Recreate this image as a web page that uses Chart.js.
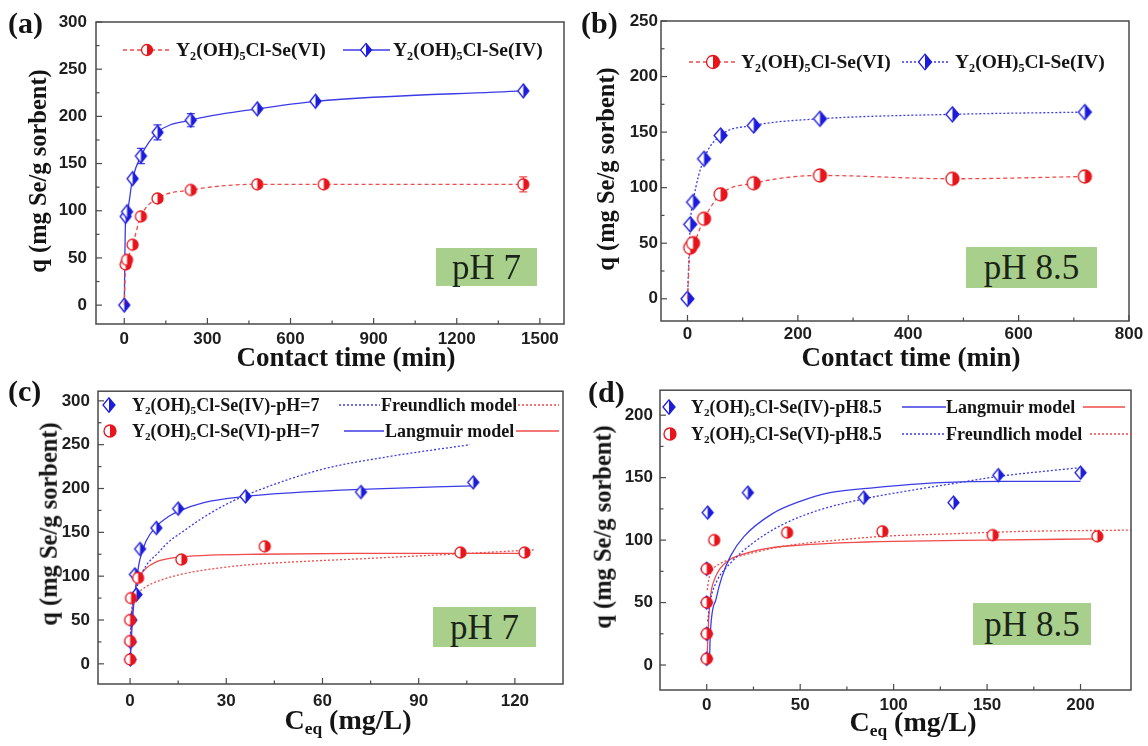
<!DOCTYPE html>
<html><head><meta charset="utf-8">
<script src="https://cdn.jsdelivr.net/npm/chart.js@4.4.1/dist/chart.umd.min.js"></script>
<style>
html,body{margin:0;padding:0;background:#fff;width:1148px;height:746px;overflow:hidden;position:relative}
canvas{position:absolute}
.t{position:absolute;font-family:"Liberation Serif","Times New Roman",serif;font-weight:bold;color:#141414;white-space:nowrap;line-height:1}
.ph{position:absolute;background:#a9cf8d;font-family:"Liberation Serif","Times New Roman",serif;font-size:35px;color:#1a2416;display:flex;align-items:center;justify-content:center;line-height:1}
.yt{position:absolute;font-family:"Liberation Serif","Times New Roman",serif;font-weight:bold;color:#141414;white-space:nowrap;line-height:1;transform:translate(-50%,-50%) rotate(-90deg)}
.xt{position:absolute;font-family:"Liberation Serif","Times New Roman",serif;font-weight:bold;color:#141414;white-space:nowrap;line-height:1;transform:translate(-50%,-50%)}
sub{font-size:0.62em;vertical-align:-0.3em;line-height:0}
svg{position:absolute;overflow:visible}
</style></head><body>
<canvas id="cA" width="574" height="373" style="left:0;top:0"></canvas>
<canvas id="cB" width="574" height="373" style="left:574px;top:0"></canvas>
<canvas id="cC" width="574" height="373" style="left:0;top:373px"></canvas>
<canvas id="cD" width="574" height="373" style="left:574px;top:373px"></canvas>
<script>
// ---------------- DATA ----------------
// (a) kinetics pH 7
const aTimeVI = [0, 5, 10, 30, 60, 120, 240, 480, 720, 1440];
const aQVI    = [0, 43, 48, 64, 94, 113, 122, 128, 128, 128];
const aErrVI  = [0, 0, 0, 0, 0, 0, 0, 0, 0, 8];
const aTimeIV = [0, 5, 10, 30, 60, 120, 240, 480, 690, 1440];
const aQIV    = [0, 94, 99, 134, 158, 183, 196, 208, 216, 227];
const aErrIV  = [0, 0, 0, 0, 8, 8, 7, 0, 0, 0];
const aXTicks = [0, 300, 600, 900, 1200, 1500];
const aYTicks = [0, 50, 100, 150, 200, 250, 300];
// (b) kinetics pH 8.5
const bTime   = [0, 5, 10, 30, 60, 120, 240, 480, 720];
const bQVI    = [0, 46, 50, 72, 94, 104, 111, 108, 110];
const bQIV    = [0, 67, 87, 126, 147, 156, 162, 166, 168];
const bXTicks = [0, 200, 400, 600, 800];
const bYTicks = [0, 50, 100, 150, 200, 250];
// (c) isotherms pH 7
const cCeqIV = [0.1, 0.2, 0.4, 1.5, 2, 3.1, 8.2, 15, 36, 72, 107];
const cQIV   = [5, 25, 50, 102, 79, 131, 155, 177, 191, 196, 207];
const cCeqVI = [0, 0, 0, 0.3, 2.5, 16, 42, 103, 123];
const cQVI   = [5, 26, 50, 75, 98, 119, 134, 127, 127];
const cLangIVx = [0, 0.5, 1, 2, 3, 5, 8, 12, 15, 23, 36, 50, 72, 107];
const cLangIVy = [0, 35, 62, 95, 118, 140, 156, 168, 174, 184, 191, 195, 199, 203];
const cFreIVx  = [0.05, 0.5, 1, 2, 3, 5, 8.6, 12, 16.5, 22, 30, 40, 60, 80, 106];
const cFreIVy  = [30, 58, 70, 85, 97, 112, 126, 139, 151, 165, 182, 198, 222, 236, 250];
const cLangVIx = [0, 0.3, 1, 2, 3, 5, 8, 12, 16, 25, 40, 70, 123];
const cLangVIy = [0, 35, 70, 90, 100, 109, 116, 120, 122, 124, 125, 126, 126];
const cFreVIx  = [0.05, 0.5, 1, 2, 5, 10, 17, 25, 37, 55, 73, 100, 126];
const cFreVIy  = [45, 62, 70, 78, 88, 96, 103, 108, 113, 117, 120, 125, 130];
const cXTicks = [0, 30, 60, 90, 120];
const cYTicks = [0, 50, 100, 150, 200, 250, 300];
// (d) isotherms pH 8.5
const dCeqIV = [0, 0, 0, 0, 0.5, 22, 84, 132, 156, 200];
const dQIV   = [5, 25, 50, 77, 122, 138, 134, 130, 152, 154];
const dCeqVI = [0, 0, 0, 0, 4, 43, 94, 153, 209];
const dQVI   = [5, 25, 50, 77, 100, 106, 107, 104, 103];
const dLangIVx = [1.5, 2, 5, 8, 13, 20, 35, 50, 66, 90, 125, 160, 200];
const dLangIVy = [5, 27, 53, 70, 88, 103, 121, 131, 138, 142, 146, 147, 147];
const dFreIVx  = [0.5, 2, 5, 13, 25, 40, 60, 84, 110, 135, 156, 180, 200];
const dFreIVy  = [35, 52, 66, 82, 98, 112, 124, 133, 140, 146, 151, 155, 158];
const dLangVIx = [0.3, 1, 2, 4, 7, 12, 20, 35, 50, 75, 100, 150, 209];
const dLangVIy = [10, 35, 55, 68, 77, 84, 89, 94, 96, 98, 99, 100, 101];
const dFreVIx  = [0.3, 1, 3, 7, 13, 25, 45, 70, 94, 130, 170, 227];
const dFreVIy  = [60, 68, 76, 81, 85, 90, 96, 100, 103, 105, 107, 108];
const dXTicks = [0, 50, 100, 150, 200];
const dYTicks = [0, 50, 100, 150, 200];

// ---------------- STYLE ----------------
const RED = '#e8141b', BLUE = '#1c1cdc', REDL = '#f04a4a', BLUEL = '#3c3ce6';
const pts = (xs, ys) => xs.map((x, i) => ({x: x, y: ys[i]}));

function halfCircle(r, color) {
  const s = Math.ceil(2 * r + 4), c = document.createElement('canvas');
  c.width = s; c.height = s;
  const g = c.getContext('2d'), cx = s / 2, cy = s / 2;
  g.beginPath(); g.arc(cx, cy, r, 0, 2 * Math.PI); g.fillStyle = '#fff'; g.fill();
  g.beginPath(); g.arc(cx, cy, r, -Math.PI / 2, Math.PI / 2); g.closePath(); g.fillStyle = color; g.fill();
  g.beginPath(); g.arc(cx, cy, r, 0, 2 * Math.PI); g.lineWidth = 1.3; g.strokeStyle = color; g.stroke();
  return c;
}
function halfDiamond(hw, hh, color) {
  const w = Math.ceil(2 * hw + 4), h = Math.ceil(2 * hh + 4), c = document.createElement('canvas');
  c.width = w; c.height = h;
  const g = c.getContext('2d'), cx = w / 2, cy = h / 2;
  g.beginPath(); g.moveTo(cx, cy - hh); g.lineTo(cx + hw, cy); g.lineTo(cx, cy + hh); g.lineTo(cx - hw, cy); g.closePath();
  g.fillStyle = '#fff'; g.fill();
  g.beginPath(); g.moveTo(cx, cy - hh); g.lineTo(cx + hw, cy); g.lineTo(cx, cy + hh); g.closePath(); g.fillStyle = color; g.fill();
  g.beginPath(); g.moveTo(cx, cy - hh); g.lineTo(cx + hw, cy); g.lineTo(cx, cy + hh); g.lineTo(cx - hw, cy); g.closePath();
  g.lineWidth = 1.3; g.strokeStyle = color; g.stroke();
  return c;
}

const frameTicks = {
  id: 'frameTicks',
  afterDraw(chart) {
    const {ctx, chartArea: a, scales: {x, y}} = chart;
    ctx.save();
    ctx.strokeStyle = '#4a4a4a'; ctx.lineWidth = 1.5;
    ctx.strokeRect(a.left, a.top, a.right - a.left, a.bottom - a.top);
    ctx.lineWidth = 1.2;
    const tk = (vals, len, hor) => vals.forEach(v => {
      ctx.beginPath();
      if (hor) { const p = x.getPixelForValue(v); ctx.moveTo(p, a.bottom); ctx.lineTo(p, a.bottom - len); }
      else { const p = y.getPixelForValue(v); ctx.moveTo(a.left, p); ctx.lineTo(a.left + len, p); }
      ctx.stroke();
    });
    const xv = x.ticks.map(t => t.value), yv = y.ticks.map(t => t.value);
    tk(xv, 6, true); tk(yv, 6, false);
    const mid = arr => arr.slice(0, -1).map((v, i) => (v + arr[i + 1]) / 2);
    tk(mid(xv), 3.5, true); tk(mid(yv), 3.5, false);
    ctx.restore();
  }
};
const errBars = {
  id: 'errBars',
  beforeDatasetsDraw(chart) {
    const {ctx, scales: {y}} = chart;
    chart.data.datasets.forEach((ds, i) => {
      if (!ds.errs) return;
      const meta = chart.getDatasetMeta(i);
      ctx.save(); ctx.strokeStyle = ds.errColor; ctx.lineWidth = 1.2;
      ds.errs.forEach((e, j) => {
        if (!e) return;
        const px = meta.data[j].x, v = ds.data[j].y;
        const y1 = y.getPixelForValue(v + e), y2 = y.getPixelForValue(v - e);
        ctx.beginPath();
        ctx.moveTo(px, y1); ctx.lineTo(px, y2);
        ctx.moveTo(px - 4, y1); ctx.lineTo(px + 4, y1);
        ctx.moveTo(px - 4, y2); ctx.lineTo(px + 4, y2);
        ctx.stroke();
      });
      ctx.restore();
    });
  }
};

const tickFont = {family: '"Liberation Sans", Arial, sans-serif', weight: 'bold', size: 17};
function makeChart(id, o) {
  return new Chart(document.getElementById(id), {
    type: 'scatter',
    data: {datasets: o.datasets},
    options: {
      responsive: false, animation: false, devicePixelRatio: 1,
      layout: {padding: o.pad},
      plugins: {legend: {display: false}, tooltip: {enabled: false}},
      scales: {
        x: {type: 'linear', min: o.xr[0], max: o.xr[1],
            grid: {display: false, drawTicks: false}, border: {display: false},
            ticks: {padding: o.xpad, color: '#1e1e1e', maxRotation: 0, autoSkip: false, font: tickFont,
                    callback: v => String(v)},
            afterBuildTicks: s => { s.ticks = o.xt.map(v => ({value: v})); },
            afterFit: s => { s.height = 30; }},
        y: {type: 'linear', min: o.yr[0], max: o.yr[1],
            grid: {display: false, drawTicks: false}, border: {display: false},
            ticks: {padding: o.ypad, color: '#1e1e1e', autoSkip: false, font: tickFont,
                    callback: v => String(v)},
            afterBuildTicks: s => { s.ticks = o.yt.map(v => ({value: v})); },
            afterFit: s => { s.width = 50; }}
      }
    },
    plugins: [errBars, frameTicks]
  });
}

const hideFirst = c => (c.dataIndex === 0 ? 0 : 6);
const lineDs = (xs, ys, color, dash, marker, extra) => Object.assign({
  data: pts(xs, ys), showLine: true, borderColor: color, borderWidth: 1.3, borderDash: dash,
  cubicInterpolationMode: 'monotone', pointStyle: marker, pointRadius: 6,
  backgroundColor: color, fill: false, order: 0
}, extra || {});
const markDs = (xs, ys, marker) => ({data: pts(xs, ys), showLine: false, pointStyle: marker, pointRadius: 6, order: 0});
const curveDs = (xs, ys, color, dash) => ({data: pts(xs, ys), showLine: true, borderColor: color, borderWidth: 1.3,
  borderDash: dash, cubicInterpolationMode: 'monotone', pointRadius: 0, fill: false, order: 1});

// (a)
makeChart('cA', {
  pad: {left: 46, right: 10, top: 22, bottom: 19}, xr: [-102, 1587], yr: [-20, 300],
  xt: aXTicks, yt: aYTicks, xpad: 5, ypad: 9,
  datasets: [
    lineDs(aTimeVI, aQVI, REDL, [4, 3], halfCircle(5.5, RED), {errs: aErrVI, errColor: REDL, pointRadius: hideFirst}),
    lineDs(aTimeIV, aQIV, BLUEL, [], halfDiamond(5.5, 7, BLUE), {errs: aErrIV, errColor: BLUEL, order: 1})
  ]
});
// (b)
makeChart('cB', {
  pad: {left: 37, right: 19, top: 21, bottom: 22}, xr: [-48, 800], yr: [-20, 250],
  xt: bXTicks, yt: bYTicks, xpad: 3, ypad: 3,
  datasets: [
    lineDs(bTime, bQVI, REDL, [4, 3], halfCircle(6.5, RED), {pointRadius: hideFirst}),
    lineDs(bTime, bQIV, BLUEL, [2, 2], halfDiamond(6.5, 7.5, BLUE), {order: 1})
  ]
});
// (c)
makeChart('cC', {
  pad: {left: 48, right: 11, top: 15, bottom: 32}, xr: [-10, 135], yr: [-23, 311],
  xt: cXTicks, yt: cYTicks, xpad: 7, ypad: 8,
  datasets: [
    markDs(cCeqVI, cQVI, halfCircle(5.5, RED)),
    markDs(cCeqIV, cQIV, halfDiamond(5.5, 6.5, BLUE)),
    curveDs(cLangIVx, cLangIVy, BLUEL, []),
    curveDs(cFreIVx, cFreIVy, BLUEL, [2, 2]),
    curveDs(cLangVIx, cLangVIy, REDL, []),
    curveDs(cFreVIx, cFreVIy, REDL, [2, 2])
  ]
});
// (d)
makeChart('cD', {
  pad: {left: 36, right: 17, top: 15, bottom: 26}, xr: [-25, 227], yr: [-20, 220],
  xt: dXTicks, yt: dYTicks, xpad: 5, ypad: 7,
  datasets: [
    markDs(dCeqVI, dQVI, halfCircle(5.5, RED)),
    markDs(dCeqIV, dQIV, halfDiamond(5.5, 6.5, BLUE)),
    curveDs(dLangIVx, dLangIVy, BLUEL, []),
    curveDs(dFreIVx, dFreIVy, BLUEL, [2, 2]),
    curveDs(dLangVIx, dLangVIy, REDL, []),
    curveDs(dFreVIx, dFreVIy, REDL, [2, 2])
  ]
});

// ---------------- TEXT & LEGENDS ----------------
const add = h => document.body.insertAdjacentHTML('beforeend', h);
const Y2 = 'Y<sub>2</sub>(OH)<sub>5</sub>Cl-Se';
function markerSVG(kind, cx, cy, s) {
  if (kind === 'c') return `<circle cx="${cx}" cy="${cy}" r="${s}" fill="#fff" stroke="${RED}" stroke-width="1.3"/>` +
    `<path d="M${cx},${cy - s} A${s},${s} 0 0 1 ${cx},${cy + s} Z" fill="${RED}"/>`;
  const hw = s, hh = s * 1.2;
  return `<polygon points="${cx},${cy - hh} ${cx + hw},${cy} ${cx},${cy + hh} ${cx - hw},${cy}" fill="#fff" stroke="${BLUE}" stroke-width="1.3"/>` +
    `<polygon points="${cx},${cy - hh} ${cx + hw},${cy} ${cx},${cy + hh}" fill="${BLUE}"/>`;
}
function sample(x1, x2, cy, color, dash, kind, mx, s) {
  let h = `<svg style="left:0;top:0" width="1" height="1">`;
  if (color) h += `<line x1="${x1}" y1="${cy}" x2="${x2}" y2="${cy}" stroke="${color}" stroke-width="1.3"${dash ? ` stroke-dasharray="${dash}"` : ''}/>`;
  if (kind) h += markerSVG(kind, mx, cy, s);
  add(h + '</svg>');
}
function txt(left, cy, size, html) {
  add(`<div class="t" style="left:${left}px;top:${cy - size * 0.5}px;font-size:${size}px">${html}</div>`);
}

// panel labels
txt(8, 23, 30, '(a)'); txt(581, 23, 30, '(b)'); txt(8, 391, 30, '(c)'); txt(588, 392, 30, '(d)');

// (a) legend
sample(123, 172, 50, REDL, '4 3', 'c', 147, 5.5); txt(176, 50, 19.5, Y2 + '(VI)');
sample(343, 390, 50, BLUEL, '', 'd', 366, 5.5); txt(393, 50, 19.5, Y2 + '(IV)');
// (b) legend
sample(689, 735, 62, REDL, '4 3', 'c', 713, 6.5); txt(741, 62, 19.5, Y2 + '(VI)');
sample(902, 949, 62, BLUEL, '2 2', 'd', 925, 6.5); txt(955, 62, 19.5, Y2 + '(IV)');
// (c) legend
sample(0, 0, 405, null, '', 'd', 109, 6); txt(132, 405, 18, Y2 + '(IV)-pH=7');
sample(339, 380, 405, BLUEL, '2 2'); txt(381, 405, 18, 'Freundlich model'); sample(518, 559, 405, REDL, '2 2');
sample(0, 0, 431, null, '', 'c', 110, 6); txt(132, 431, 18, Y2 + '(VI)-pH=7');
sample(344, 384, 431, BLUEL, ''); txt(385, 431, 18, 'Langmuir model'); sample(516, 559, 431, REDL, '');
// (d) legend
sample(0, 0, 407, null, '', 'd', 669, 6); txt(691, 407, 18, Y2 + '(IV)-pH8.5');
sample(902, 946, 407, BLUEL, ''); txt(946, 407, 18, 'Langmuir model'); sample(1083, 1125, 407, REDL, '');
sample(0, 0, 434, null, '', 'c', 670, 6); txt(691, 434, 18, Y2 + '(VI)-pH8.5');
sample(902, 946, 434, BLUEL, '2 2'); txt(946, 434, 18, 'Freundlich model'); sample(1090, 1134, 434, REDL, '2 2');

// pH boxes
add('<div class="ph" style="left:436px;top:248px;width:101px;height:38px">pH 7</div>');
add('<div class="ph" style="left:966px;top:247px;width:131px;height:41px">pH 8.5</div>');
add('<div class="ph" style="left:433px;top:607px;width:103px;height:40px">pH 7</div>');
add('<div class="ph" style="left:973px;top:603px;width:118px;height:42px">pH 8.5</div>');

// axis titles
const yTitle = 'q (mg Se/g sorbent)';
add(`<div class="yt" style="left:38px;top:171px;font-size:24.5px">${yTitle}</div>`);
add(`<div class="yt" style="left:606px;top:169px;font-size:24.5px">${yTitle}</div>`);
add(`<div class="yt" style="left:49px;top:524px;font-size:24.5px">${yTitle}</div>`);
add(`<div class="yt" style="left:603px;top:527px;font-size:24.5px">${yTitle}</div>`);
add('<div class="xt" style="left:346px;top:357px;font-size:27px">Contact time (min)</div>');
add('<div class="xt" style="left:911px;top:357px;font-size:27px">Contact time (min)</div>');
add('<div class="xt" style="left:348px;top:720px;font-size:28px">C<sub>eq</sub> (mg/L)</div>');
add('<div class="xt" style="left:913px;top:722px;font-size:28px">C<sub>eq</sub> (mg/L)</div>');
</script>
</body></html>
